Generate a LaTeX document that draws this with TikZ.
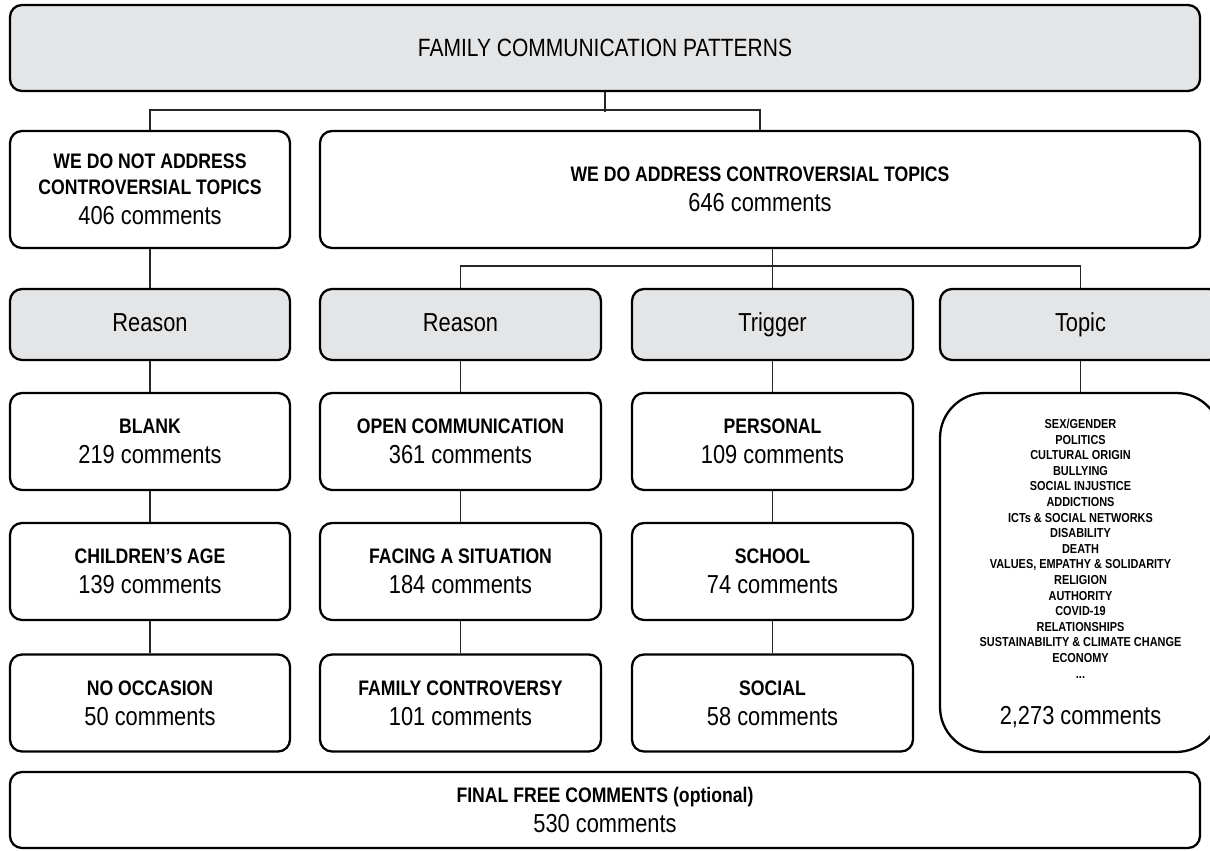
\documentclass[tikz,border=0pt]{standalone}
\usepackage{fontspec}
\setmainfont{Liberation Sans}[FakeStretch=0.84]
\usepackage{xcolor}
\definecolor{boxgray}{HTML}{E4E5E7}
\newcommand{\hd}[1]{{\bfseries\fontsize{21}{25}\selectfont #1}}

\begin{document}
\begin{tikzpicture}[x=1pt, y=-1pt,
    box/.style={draw, line width=2.3pt, rounded corners=12pt, align=center, inner sep=0pt,
      font=\fontsize{26}{30}\selectfont},
    cat/.style={box, fill=boxgray, minimum width=281pt, minimum height=71pt,
      text height=19pt, text depth=5.5pt},
    cell/.style={box, minimum width=281pt, minimum height=97pt},
    link/.style={draw=black!85, line width=1.3pt}]
  \useasboundingbox (0,0) rectangle (1210,851);
  \clip (0,0) rectangle (1210,851);
  % top
  \node[box, fill=boxgray, minimum width=1190pt, minimum height=86pt,
    font=\fontsize{25}{29}\selectfont] (title) at (605,48) {FAMILY COMMUNICATION PATTERNS};
  \node[box, minimum width=280pt, minimum height=117pt] (noaddr) at (150,189.5)
    {\hd{WE DO NOT ADDRESS}\\[-4pt]\hd{CONTROVERSIAL TOPICS}\\406 comments};
  \node[box, minimum width=880pt, minimum height=117pt] (addr) at (760,189.5)
    {\hd{WE DO ADDRESS CONTROVERSIAL TOPICS}\\646 comments};
  % categories
  \node[cat, minimum width=280pt] (reasonA) at (150,324.5) {Reason};
  \node[cat] (reasonB) at (460.5,324.5) {Reason};
  \node[cat] (trigger) at (772.5,324.5) {Trigger};
  \node[cat] (topic) at (1080.5,324.5) {Topic};
  % first column
  \node[cell, minimum width=280pt] (blank) at (150,441.5) {\hd{BLANK}\\219 comments};
  \node[cell, minimum width=280pt] (age) at (150,571.5) {\hd{CHILDREN’S AGE}\\139 comments};
  \node[cell, minimum width=280pt] (nooccasion) at (150,703) {\hd{NO OCCASION}\\50 comments};
  % second column
  \node[cell] (opencom) at (460.5,441.5) {\hd{OPEN COMMUNICATION}\\361 comments};
  \node[cell] (facing) at (460.5,571.5) {\hd{FACING A SITUATION}\\184 comments};
  \node[cell] (controversy) at (460.5,703) {\hd{FAMILY CONTROVERSY}\\101 comments};
  % third column
  \node[cell] (personal) at (772.5,441.5) {\hd{PERSONAL}\\109 comments};
  \node[cell] (school) at (772.5,571.5) {\hd{SCHOOL}\\74 comments};
  \node[cell] (social) at (772.5,703) {\hd{SOCIAL}\\58 comments};
  % topic list
  \node[box, rounded corners=45pt, minimum width=281pt, minimum height=359pt] (topics) at (1080.5,572.5)
    {{\bfseries\fontsize{13}{15.6}\selectfont
      \begin{tabular}{@{}c@{}}
        SEX/GENDER\\POLITICS\\CULTURAL ORIGIN\\BULLYING\\SOCIAL INJUSTICE\\ADDICTIONS\\
        ICTs \& SOCIAL NETWORKS\\DISABILITY\\DEATH\\VALUES, EMPATHY \& SOLIDARITY\\
        RELIGION\\AUTHORITY\\COVID-19\\RELATIONSHIPS\\SUSTAINABILITY \& CLIMATE CHANGE\\
        ECONOMY\\...
      \end{tabular}}\\[22pt]2,273 comments};
  % bottom
  \node[box, minimum width=1190pt, minimum height=76pt] (final) at (605,810)
    {\hd{FINAL FREE COMMENTS (optional)}\\530 comments};
  % connectors
  \draw[link] (title.south) -- ++(0,20);
  \draw[link] (noaddr.north) -- ++(0,-20) -| (addr.north);
  \draw[link] (noaddr) -- (reasonA);
  \draw[link] (reasonA) -- (blank);
  \draw[link] (blank) -- (age);
  \draw[link] (age) -- (nooccasion);
  \draw[link] (reasonB.north) -- ++(0,-22) -| (topic.north);
  \draw[link] (trigger.north) -- (trigger.north |- addr.south);
  \draw[link] (reasonB) -- (opencom);
  \draw[link] (opencom) -- (facing);
  \draw[link] (facing) -- (controversy);
  \draw[link] (trigger) -- (personal);
  \draw[link] (personal) -- (school);
  \draw[link] (school) -- (social);
  \draw[link] (topic) -- (topics);
\end{tikzpicture}
\end{document}
